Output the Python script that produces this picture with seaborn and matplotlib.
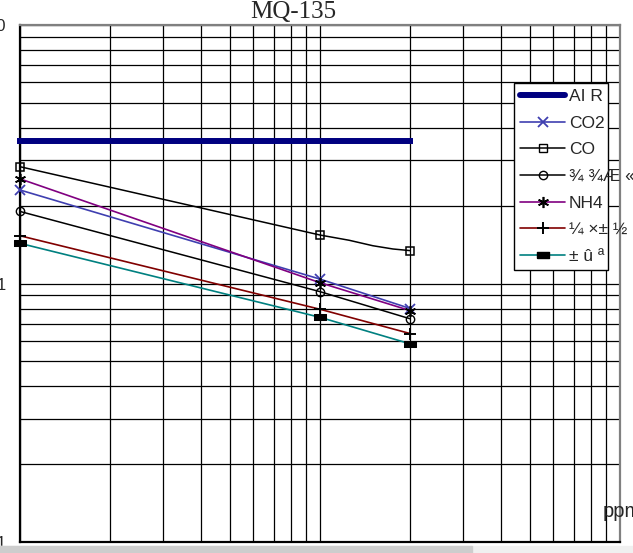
import matplotlib
matplotlib.use("Agg")
import matplotlib.pyplot as plt
from matplotlib.ticker import LogLocator, NullFormatter, FixedLocator
from matplotlib.lines import Line2D
from matplotlib.patches import Rectangle
import seaborn as sns
import pandas as pd

# data (Rs/Ro vs ppm)
ppm = [10, 100, 200]
air_ppm = [10, 200]
air = [3.57, 3.57]
co2 = [2.30, 1.04, 0.80]
co_ppm = [10, 100, 125, 150, 175, 200]
co = [2.83, 1.54, 1.47, 1.40, 1.36, 1.34]
alcohol = [1.90, 0.93, 0.73]
nh4 = [2.54, 1.007, 0.785]
toluene = [1.53, 0.795, 0.64]
acetone = [1.43, 0.74, 0.584]

labels = ["AI R", "CO2", "CO", "¾ ¾Æ «", "NH4", "¼ ×± ½", "± û ª"]
ytick_vals = [0.1, 1, 10]
ytick_text = ["0.1", "1", "10"]

sns.set_style("white")
plt.rcParams['font.family'] = ['Liberation Sans', 'DejaVu Sans']

W, H = 633, 553
fig = plt.figure(figsize=(W / 100, H / 100), dpi=100)
ax = fig.add_axes([20 / W, 1 - 542 / H, 600 / W, 517 / H])

rect_marker = [(-1, -0.55), (1, -0.55), (1, 0.55), (-1, 0.55), (-1, -0.55)]

sns.lineplot(x=air_ppm, y=air, ax=ax, color="#000080", lw=4.3,
             solid_capstyle='projecting', zorder=5, clip_on=False)
sns.lineplot(x=ppm, y=co2, ax=ax, color="#3f3fb0", lw=1.2, marker='x',
             markersize=7, markeredgewidth=1.3, markeredgecolor="#3f3fb0",
             zorder=5, clip_on=False)
sns.lineplot(x=co_ppm, y=co, ax=ax, color="black", lw=1.1, marker='s',
             markersize=6, markerfacecolor='none', markeredgecolor='black',
             markeredgewidth=1.1, markevery=[0, 1, 5], zorder=5, clip_on=False)
sns.lineplot(x=ppm, y=alcohol, ax=ax, color="black", lw=1.1, marker='o',
             markersize=6, markerfacecolor='none', markeredgecolor='black',
             markeredgewidth=1.0, zorder=5, clip_on=False)
sns.lineplot(x=ppm, y=nh4, ax=ax, color="#800080", lw=1.2, marker=(6, 2, 0),
             markersize=8, markeredgecolor='black', markeredgewidth=1.2,
             zorder=5, clip_on=False)
sns.lineplot(x=ppm, y=toluene, ax=ax, color="#800000", lw=1.2, marker='+',
             markersize=9, markeredgecolor='black', markeredgewidth=1.4,
             zorder=5, clip_on=False)
sns.lineplot(x=ppm, y=acetone, ax=ax, color="#008080", lw=1.2, marker=rect_marker,
             markersize=8, markerfacecolor='black', markeredgecolor='black',
             zorder=5, clip_on=False)

ax.set_xscale('log')
ax.set_yscale('log')
ax.set_xlim(10, 1000)
ax.set_ylim(0.1, 10)

ax.xaxis.set_major_locator(FixedLocator([10, 100, 1000]))
ax.xaxis.set_minor_locator(LogLocator(base=10, subs=range(2, 10)))
ax.yaxis.set_major_locator(FixedLocator(ytick_vals))
ax.yaxis.set_minor_locator(LogLocator(base=10, subs=range(2, 10)))
ax.xaxis.set_minor_formatter(NullFormatter())
ax.yaxis.set_minor_formatter(NullFormatter())
ax.set_yticklabels(ytick_text)
ax.tick_params(axis='both', which='both', length=0)
ax.tick_params(axis='x', labelbottom=False)
ax.tick_params(axis='y', labelsize=12, pad=10)
ax.grid(True, which='both', color='black', lw=0.9)
ax.set_xlabel("")
ax.set_ylabel("")

for side in ['left', 'bottom']:
    ax.spines[side].set_color('black')
    ax.spines[side].set_linewidth(1.6)
for side in ['top', 'right']:
    ax.spines[side].set_color('#808080')
    ax.spines[side].set_linewidth(1.6)

handles = [
    Line2D([], [], color="#000080", lw=4.3),
    Line2D([], [], color="#3f3fb0", lw=1.2, marker='x', markersize=7, markeredgewidth=1.3),
    Line2D([], [], color="black", lw=1.1, marker='s', markersize=6, markerfacecolor='none'),
    Line2D([], [], color="black", lw=1.1, marker='o', markersize=6, markerfacecolor='none'),
    Line2D([], [], color="#800080", lw=1.2, marker=(6, 2, 0), markersize=8,
           markeredgecolor='black', markeredgewidth=1.2),
    Line2D([], [], color="#800000", lw=1.2, marker='+', markersize=9,
           markeredgecolor='black', markeredgewidth=1.4),
    Line2D([], [], color="#008080", lw=1.2, marker=rect_marker, markersize=8,
           markerfacecolor='black', markeredgecolor='black'),
]
leg = ax.legend(handles, labels, loc='upper left',
                bbox_to_anchor=(494 / 600, 1 - 58 / 517, 94 / 600, 0),
                mode='expand', fontsize=12.5, frameon=True, fancybox=False,
                edgecolor='black', framealpha=1, borderaxespad=0, borderpad=0.35,
                handlelength=2.6, handletextpad=0.2, labelspacing=0.66)
leg.get_frame().set_linewidth(1.0)
leg.set_zorder(10)

fig.text(293 / W, 1 - 18.5 / H, "MQ-135", ha='center', va='baseline',
         fontsize=18, family=['Liberation Serif', 'DejaVu Serif'])
fig.text(603 / W, 1 - 517 / H, "ppm", ha='left', va='baseline', fontsize=14.5)

# window scrollbar strip at the bottom
fig.patches.append(Rectangle((0, 0), 1, 7 / H, transform=fig.transFigure,
                             color='#f0f0f0', zorder=0))
fig.patches.append(Rectangle((0, 0), 472 / W, 7 / H, transform=fig.transFigure,
                             color='#cdcdcd', zorder=0))

fig.savefig("out.png", dpi=100)
